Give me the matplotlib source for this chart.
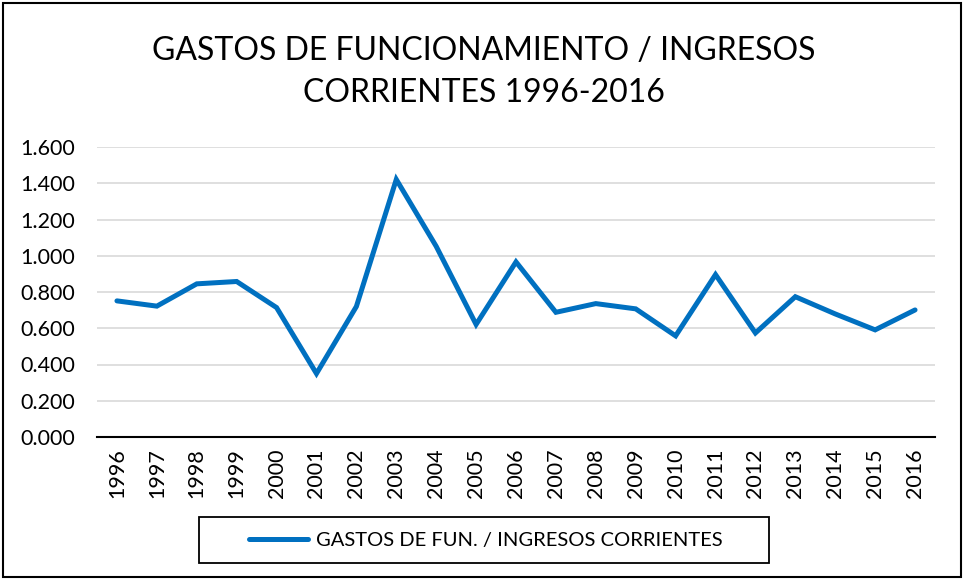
import matplotlib.pyplot as plt
from matplotlib.patches import Rectangle
from matplotlib.ticker import FuncFormatter

plt.rcParams["font.family"] = ["Lato", "DejaVu Sans"]

TITLE = "GASTOS DE FUNCIONAMIENTO / INGRESOS\nCORRIENTES 1996-2016"
SERIES_LABEL = "GASTOS DE FUN. / INGRESOS CORRIENTES"

years = ["1996", "1997", "1998", "1999", "2000", "2001", "2002", "2003", "2004", "2005", "2006",
         "2007", "2008", "2009", "2010", "2011", "2012", "2013", "2014", "2015", "2016"]
ratio = [0.751, 0.722, 0.845, 0.858, 0.714, 0.350, 0.720, 1.421, 1.052, 0.621, 0.966,
         0.688, 0.736, 0.707, 0.558, 0.896, 0.574, 0.774, 0.679, 0.591, 0.701]
y_ticks = [0.0, 0.2, 0.4, 0.6, 0.8, 1.0, 1.2, 1.4, 1.6]

W, H = 964, 580
fig = plt.figure(figsize=(W / 100, H / 100), dpi=100)
ax = fig.add_axes([97 / W, 1 - 437 / H, (935 - 97) / W, (437 - 147) / H])

x = list(range(len(years)))
line, = ax.plot(x, ratio, color="#0070C0", linewidth=3.6, solid_joinstyle="miter",
                solid_capstyle="round", label=SERIES_LABEL)

ax.set_xlim(-0.5, len(years) - 0.5)
ax.set_ylim(0, 1.6)
ax.set_yticks(y_ticks)
ax.yaxis.set_major_formatter(FuncFormatter(lambda v, p: f"{v:.3f}"))
ax.set_xticks(x)
ax.set_xticklabels(years, rotation=90)
ax.tick_params(axis="both", length=0, labelsize=15.5, colors="black")
ax.tick_params(axis="y", pad=16)
ax.tick_params(axis="x", pad=8)

ax.grid(axis="y", color="#d9d9d9", linewidth=1.2)
ax.set_axisbelow(True)
for side in ["top", "right", "left"]:
    ax.spines[side].set_visible(False)
ax.spines["bottom"].set_color("black")
ax.spines["bottom"].set_linewidth(1.5)

fig.text(484 / W, 1 - 72 / H, TITLE, ha="center", va="center", fontsize=23,
         linespacing=1.5)

# legend box
fig.patches.append(Rectangle((199 / W, 1 - 563 / H), (769 - 199) / W, (563 - 517) / H,
                             transform=fig.transFigure, fill=False, edgecolor="black",
                             linewidth=1.3))
fig.legend(handles=[line], loc="center", bbox_to_anchor=(486 / W, 1 - 540 / H),
           frameon=False, fontsize=14.5, handlelength=2.9, handletextpad=0.4)

# outer chart border
fig.patches.append(Rectangle((3 / W, 3 / H), (961 - 3) / W, (577 - 3) / H,
                             transform=fig.transFigure, fill=False, edgecolor="black",
                             linewidth=1.5))

fig.savefig("out.png", dpi=100)
